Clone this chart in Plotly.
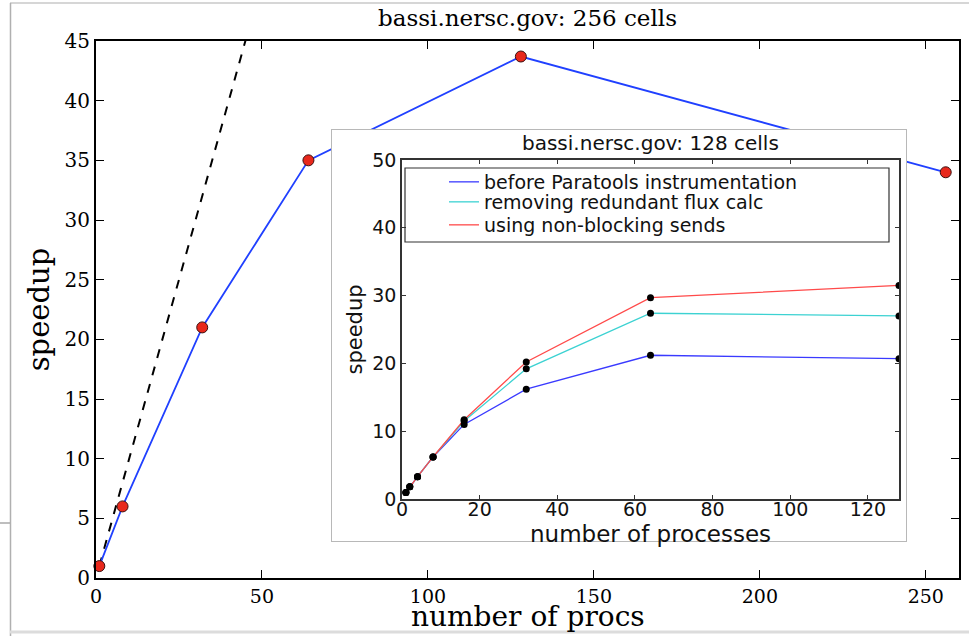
import plotly.graph_objects as go

# ---- 256-cell run (main panel) ----
procs_256 = [1, 8, 32, 64, 128, 256]
speedup_256 = [1.0, 6.0, 21.0, 35.0, 43.7, 34.0]
ideal_x = [1, 50]
ideal_y = [1, 50]

# ---- 128-cell run (inset) ----
procs_128 = [1, 2, 4, 8, 16, 32, 64, 128]
before_instr = [0.95, 1.8, 3.3, 6.2, 11.0, 16.2, 21.2, 20.7]
no_flux_calc = [0.95, 1.8, 3.3, 6.2, 11.5, 19.2, 27.4, 27.0]
nonblocking = [0.95, 1.8, 3.3, 6.2, 11.7, 20.2, 29.7, 31.5]

inset_series = [
    ("before Paratools instrumentation", before_instr, "#3a3aff"),
    ("removing redundant flux calc", no_flux_calc, "#3cd2d2"),
    ("using non-blocking sends", nonblocking, "#ff4a4a"),
]

W, H = 969, 636
ML, MR, MT, MB = 96, 10, 41, 58
PW, PH = W - ML - MR, H - MT - MB


def px(x):
    return (x - ML) / PW


def py(y):
    return (H - MB - y) / PH


SERIF = "DejaVu Serif"
SANS = "DejaVu Sans"

fig = go.Figure()

# ideal (linear) speedup
fig.add_trace(go.Scatter(
    x=ideal_x, y=ideal_y, mode="lines",
    line=dict(color="black", width=2, dash="dash"),
    showlegend=False, xaxis="x", yaxis="y", hoverinfo="skip",
))
# measured speedup, 256 cells
fig.add_trace(go.Scatter(
    x=procs_256, y=speedup_256, mode="lines+markers",
    line=dict(color="#2040ff", width=1.8),
    marker=dict(color="#e8281c", size=11, line=dict(color="#3a1010", width=1)),
    cliponaxis=False, showlegend=False, xaxis="x", yaxis="y",
))

# empty panel that carries the white inset background
fig.add_trace(go.Scatter(x=[], y=[], xaxis="x2", yaxis="y2", showlegend=False))

# inset curves: lines (one legend box per entry), then the black sample dots
legend_ids = ["legend", "legend2", "legend3"]
for (name, vals, col), lg in zip(inset_series, legend_ids):
    fig.add_trace(go.Scatter(
        x=procs_128, y=vals, mode="lines", name=name,
        line=dict(color=col, width=1.3), legend=lg,
        xaxis="x3", yaxis="y3",
    ))
for name, vals, col in inset_series:
    fig.add_trace(go.Scatter(
        x=procs_128, y=vals, mode="markers", name=name,
        marker=dict(color="black", size=7),
        showlegend=False, xaxis="x3", yaxis="y3",
    ))

main_axis = dict(
    showline=True, linecolor="black", linewidth=2, mirror="allticks",
    ticks="inside", ticklen=8, tickwidth=1, tickcolor="black",
    showgrid=False, zeroline=False, automargin=False,
    tickfont=dict(family=SERIF, size=20, color="black"),
)
inset_axis = dict(
    showline=True, linecolor="#333333", linewidth=1.5, mirror="allticks",
    ticks="inside", ticklen=4, tickwidth=1, tickcolor="#333333",
    showgrid=False, zeroline=False, automargin=False,
    tickfont=dict(family=SANS, size=19, color="#111111"),
)

legend_style = dict(xanchor="left", yanchor="top", bgcolor="rgba(0,0,0,0)",
                    borderwidth=0, itemwidth=30,
                    font=dict(family=SANS, size=19, color="#111111"))

fig.update_layout(
    width=W, height=H,
    margin=dict(l=ML, r=MR, t=MT, b=MB, pad=0),
    paper_bgcolor="white", plot_bgcolor="white",
    title=dict(text="bassi.nersc.gov: 256 cells", x=0.5, xref="paper",
               y=1 - 18 / H, yanchor="middle", xanchor="center",
               font=dict(family=SERIF, size=23, color="black")),
    xaxis=dict(main_axis, range=[0, 260], tickvals=[0, 50, 100, 150, 200, 250],
               domain=[0, 1], anchor="y",
               tickfont=dict(family=SERIF, size=19, color="black")),
    yaxis=dict(main_axis, range=[0, 45], tickvals=list(range(0, 46, 5)),
               domain=[0, 1], anchor="x",
               title=dict(text="speedup", standoff=6,
                          font=dict(family=SERIF, size=29, color="black"))),
    xaxis2=dict(domain=[px(332), px(906)], range=[0, 1], anchor="y2",
                showline=True, mirror=True, linecolor="#b8b8b8", linewidth=1,
                showticklabels=False, ticks="", showgrid=False, zeroline=False,
                fixedrange=True),
    yaxis2=dict(domain=[py(541), py(130)], range=[0, 1], anchor="x2",
                showline=True, mirror=True, linecolor="#b8b8b8", linewidth=1,
                showticklabels=False, ticks="", showgrid=False, zeroline=False,
                fixedrange=True),
    xaxis3=dict(inset_axis, domain=[px(402), px(899)], range=[0, 128],
                tickvals=[0, 20, 40, 60, 80, 100, 120], anchor="y3",
                ticklabelstandoff=-8),
    yaxis3=dict(inset_axis, domain=[py(499), py(160)], range=[0, 50],
                tickvals=[0, 10, 20, 30, 40, 50], anchor="x3",
                title=dict(text="speedup", standoff=4,
                           font=dict(family=SANS, size=21, color="#111111"))),
    legend=dict(legend_style, x=px(444), y=py(163)),
    legend2=dict(legend_style, x=px(444), y=py(183)),
    legend3=dict(legend_style, x=px(444), y=py(206)),
    annotations=[
        # main x-axis title
        dict(text="number of procs", x=0.5, y=py(616), xref="paper", yref="paper",
             showarrow=False, xanchor="center", yanchor="middle",
             font=dict(family=SERIF, size=28, color="black")),
        dict(text="bassi.nersc.gov: 128 cells", x=(px(402) + px(899)) / 2,
             y=py(143), xref="paper", yref="paper", showarrow=False,
             xanchor="center", yanchor="middle",
             font=dict(family=SANS, size=20, color="#111111")),
        dict(text="number of processes", x=(px(402) + px(899)) / 2,
             y=py(534), xref="paper", yref="paper", showarrow=False,
             xanchor="center", yanchor="middle",
             font=dict(family=SANS, size=23, color="#111111")),
    ],
    shapes=[
        # legend frame
        dict(type="rect", xref="paper", yref="paper", x0=px(405), x1=px(889),
             y0=py(242), y1=py(168), line=dict(color="#333333", width=1.2),
             layer="above"),
        # page frame
        dict(type="line", xref="paper", yref="paper", x0=px(10), x1=px(969),
             y0=py(3), y1=py(3), line=dict(color="#c8c8c8", width=1.5)),
        dict(type="line", xref="paper", yref="paper", x0=px(10.5), x1=px(10.5),
             y0=py(3), y1=py(636), line=dict(color="#b0b0b0", width=1.5)),
        dict(type="line", xref="paper", yref="paper", x0=px(0), x1=px(10),
             y0=py(523), y1=py(523), line=dict(color="#a8a8a8", width=1.5)),
        dict(type="line", xref="paper", yref="paper", x0=px(10), x1=px(969),
             y0=py(632), y1=py(632), line=dict(color="#dcdcdc", width=3)),
    ],
)

fig.write_html("out.html")
